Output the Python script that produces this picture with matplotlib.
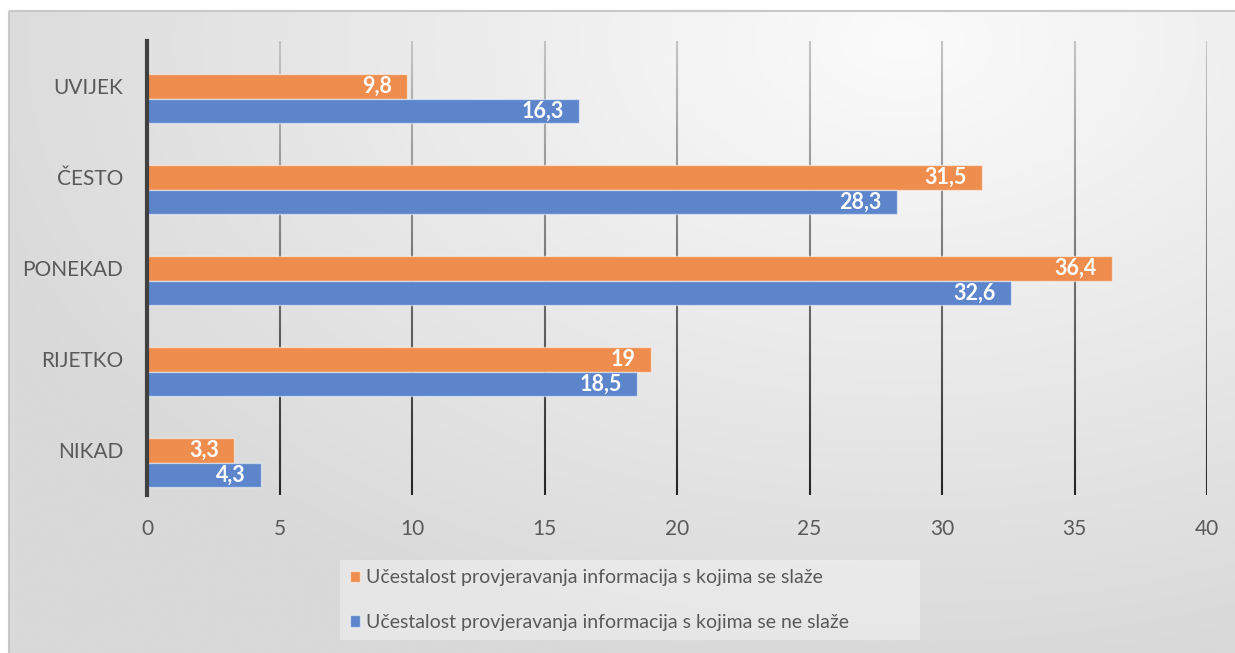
import numpy as np
import matplotlib.pyplot as plt
from matplotlib.collections import LineCollection
from matplotlib.colors import LinearSegmentedColormap
from matplotlib.patches import Rectangle

plt.rcParams["font.family"] = ["Lato", "DejaVu Sans"]

categories = ["UVIJEK", "ČESTO", "PONEKAD", "RIJETKO", "NIKAD"]
agree = [9.8, 31.5, 36.4, 19, 3.3]
disagree = [16.3, 28.3, 32.6, 18.5, 4.3]
series_names = [
	"Učestalost provjeravanja informacija s kojima se slaže",
	"Učestalost provjeravanja informacija s kojima se ne slaže",
]
x_ticks = list(range(0, 41, 5))

ORANGE = "#ee8d4d"
BLUE = "#5c85cb"
TEXT = "#595959"

W, H = 1235, 653
fig = plt.figure(figsize=(W / 100, H / 100), dpi=100)

# background with soft radial shading, like the office chart fill
bg = fig.add_axes([0, 0, 1, 1], zorder=-5)
bg.set_xlim(0, W)
bg.set_ylim(H, 0)
bg.axis("off")
yy, xx = np.mgrid[0:H, 0:W]
d = np.sqrt(((xx - 900) / 1000.0) ** 2 + ((yy - 30) / 650.0) ** 2)
d = np.clip(d, 0, 1)
bg_cmap = LinearSegmentedColormap.from_list("bg", ["#fbfbfb", "#d9d9d9"])
bg.imshow(d, cmap=bg_cmap, extent=(9, W, H, 11), aspect="auto", vmin=0, vmax=1)
bg.add_patch(Rectangle((9, 11), W + 10, H + 10, fill=False, edgecolor="#c8c8c8", linewidth=1.5))

ax = fig.add_axes([147 / W, 1 - 495 / H, (1207 - 147) / W, (495 - 41) / H])
ax.patch.set_alpha(0)

n = len(categories)
pos = np.arange(n)[::-1]
h = 0.27
bars_a = ax.barh(pos + h / 2, agree, height=h, color=ORANGE, edgecolor=(1, 1, 1, 0.5),
                 linewidth=1, label=series_names[0], zorder=3)
bars_d = ax.barh(pos - h / 2, disagree, height=h, color=BLUE, edgecolor=(1, 1, 1, 0.5),
                 linewidth=1, label=series_names[1], zorder=3)

for yc, vals in [(pos + h / 2, agree), (pos - h / 2, disagree)]:
	for y, v in zip(yc, vals):
		ax.annotate(f"{v:g}".replace(".", ","), (v, y), xytext=(-15, 0), textcoords="offset pixels",
		            ha="right", va="center", color="white", fontsize=15.5, fontweight="bold", zorder=4)

ax.set_xlim(0, 40)
ax.set_ylim(-0.357, 4.632)

# gridlines fading from light grey at the top to near black at the bottom
grid_cmap = LinearSegmentedColormap.from_list("grid", ["#262626", "#c4c4c4"])
ys = np.linspace(-0.357, 4.632, 80)
for t in x_ticks[1:]:
	segs = [[(t, ys[i]), (t, ys[i + 1])] for i in range(len(ys) - 1)]
	cols = grid_cmap(np.linspace(0, 1, len(segs)))
	ax.add_collection(LineCollection(segs, colors=cols, linewidths=1.5, zorder=1))

ax.set_xticks(x_ticks)
# category labels sit level with the first (orange) bar, as in the original
ax.set_yticks(pos + h / 2)
ax.set_yticklabels(categories)
ax.tick_params(axis="x", length=0, pad=17, labelsize=15, labelcolor=TEXT)
ax.tick_params(axis="y", length=0, pad=17, labelsize=15, labelcolor=TEXT)
for s in ["top", "right", "bottom"]:
	ax.spines[s].set_visible(False)
ax.spines["left"].set_color("#404040")
ax.spines["left"].set_linewidth(3)
ax.spines["left"].set_zorder(5)

leg = fig.legend(handles=[bars_a, bars_d], loc="center", mode="expand",
                 bbox_to_anchor=(340 / W, 1 - 643 / H, 580 / W, 86 / H),
                 fontsize=14, frameon=True, fancybox=False, handlelength=0.55, handleheight=0.55,
                 handletextpad=0.3, labelspacing=1.4, borderpad=0.5, borderaxespad=0)
leg.get_frame().set_facecolor("white")
leg.get_frame().set_alpha(0.35)
leg.get_frame().set_edgecolor("none")
for t in leg.get_texts():
	t.set_color(TEXT)

fig.savefig("out.png", dpi=100)
